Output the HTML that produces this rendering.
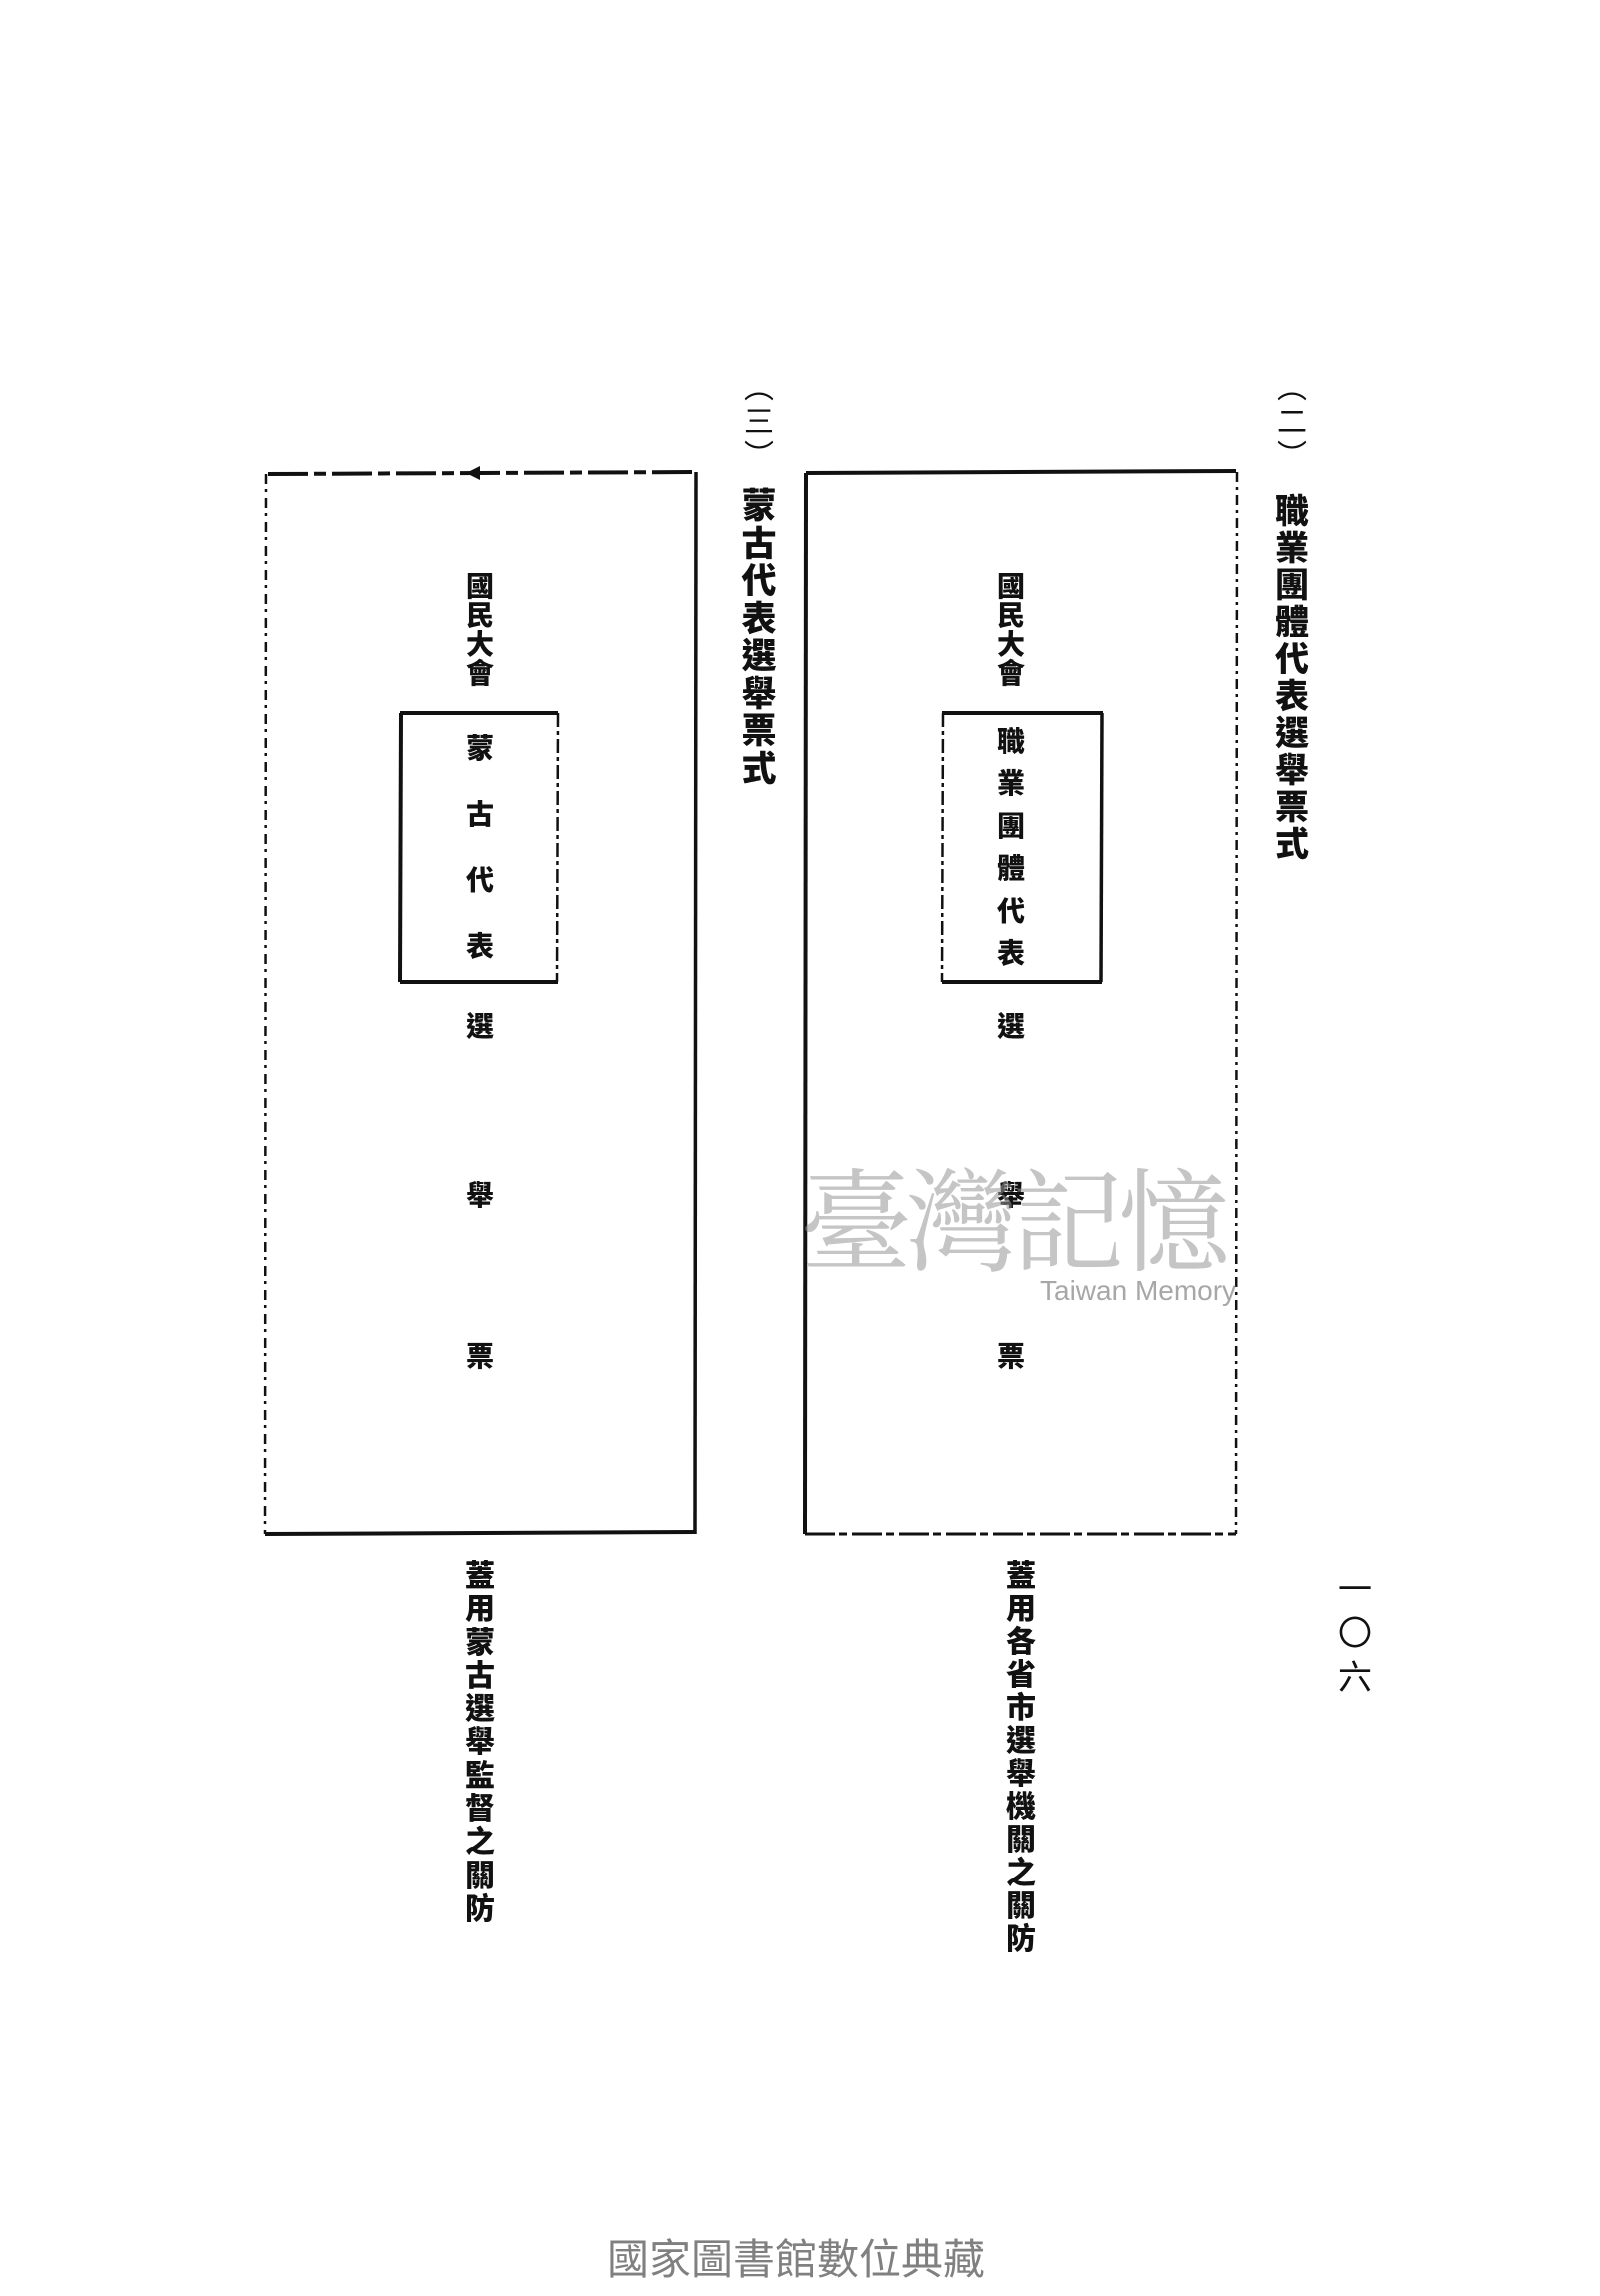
<!DOCTYPE html>
<html><head><meta charset="utf-8"><style>
html,body{margin:0;padding:0;background:#fff;}
body{width:1600px;height:2296px;position:relative;overflow:hidden;font-family:"Liberation Serif","Noto Serif CJK SC","Noto Sans CJK TC",serif;color:#111;}
.col{position:absolute;display:flex;flex-direction:column;align-items:center;font-weight:900;font-family:"Liberation Sans","Noto Sans CJK TC",sans-serif;}
.col span{display:block;text-align:center;}
.c{position:absolute;transform:translate(-50%,-50%);font-weight:900;font-family:"Liberation Sans","Noto Sans CJK TC",sans-serif;}
</style></head><body>
<svg width="1600" height="2296" style="position:absolute;left:0;top:0">
<g stroke="#111" fill="none">
<line x1="806" y1="473" x2="1236" y2="471" stroke-width="4"/>
<line x1="806" y1="473" x2="805" y2="1534" stroke-width="4"/>
<line x1="1237" y1="472" x2="1236" y2="1534" stroke-width="2.5" stroke-dasharray="10 5 3 5"/>
<line x1="805" y1="1534" x2="1236" y2="1534" stroke-width="3" stroke-dasharray="30 4 8 5"/>
<line x1="268" y1="474" x2="697" y2="472" stroke-width="4" stroke-dasharray="40 6 12 6"/>
<line x1="266" y1="474" x2="265" y2="1534" stroke-width="2.5" stroke-dasharray="10 5 3 6"/>
<line x1="696" y1="472" x2="695" y2="1534" stroke-width="3.5"/>
<line x1="265" y1="1534" x2="696" y2="1532" stroke-width="4"/>
<line x1="942" y1="713" x2="1103" y2="713" stroke-width="4"/>
<line x1="943" y1="713" x2="942" y2="982" stroke-width="2.5" stroke-dasharray="14 4 4 4"/>
<line x1="1102" y1="713" x2="1101" y2="982" stroke-width="3.5"/>
<line x1="942" y1="982" x2="1102" y2="982" stroke-width="4"/>
<line x1="400" y1="713" x2="558" y2="713" stroke-width="4"/>
<line x1="401" y1="713" x2="400" y2="982" stroke-width="4"/>
<line x1="558" y1="713" x2="557" y2="982" stroke-width="2.5" stroke-dasharray="14 4 4 4"/>
<line x1="400" y1="982" x2="558" y2="982" stroke-width="4"/>
</g>
<polygon points="466,473 480,466 480,480" fill="#111"/>
</svg>

<div class="col" style="left:1272px;top:372px;width:40px;font-size:30px;line-height:34px;font-weight:400"><span>︵</span><span>二</span><span>︶</span></div>
<div class="col" style="left:1272px;top:494px;width:40px;font-size:34px;line-height:37px"><span>職</span><span>業</span><span>團</span><span>體</span><span>代</span><span>表</span><span>選</span><span>舉</span><span>票</span><span>式</span></div>
<div class="col" style="left:739px;top:372px;width:40px;font-size:30px;line-height:34px;font-weight:400"><span>︵</span><span>三</span><span>︶</span></div>
<div class="col" style="left:739px;top:488px;width:40px;font-size:35px;line-height:37.5px"><span>蒙</span><span>古</span><span>代</span><span>表</span><span>選</span><span>舉</span><span>票</span><span>式</span></div>

<div class="col" style="left:996px;top:572px;width:30px;font-size:28px;line-height:29px"><span>國</span><span>民</span><span>大</span><span>會</span></div>
<div class="c" style="left:1011px;top:740px;font-size:28px">職</div>
<div class="c" style="left:1011px;top:782px;font-size:28px">業</div>
<div class="c" style="left:1011px;top:825px;font-size:28px">團</div>
<div class="c" style="left:1011px;top:867px;font-size:28px">體</div>
<div class="c" style="left:1011px;top:910px;font-size:28px">代</div>
<div class="c" style="left:1011px;top:952px;font-size:28px">表</div>
<div class="c" style="left:1011px;top:1025px;font-size:28px">選</div>
<div class="c" style="left:1011px;top:1194px;font-size:28px">舉</div>
<div class="c" style="left:1011px;top:1355px;font-size:28px">票</div>

<div class="col" style="left:465px;top:572px;width:30px;font-size:28px;line-height:29px"><span>國</span><span>民</span><span>大</span><span>會</span></div>
<div class="c" style="left:480px;top:747px;font-size:28px">蒙</div>
<div class="c" style="left:480px;top:813px;font-size:28px">古</div>
<div class="c" style="left:480px;top:879px;font-size:28px">代</div>
<div class="c" style="left:480px;top:945px;font-size:28px">表</div>
<div class="c" style="left:480px;top:1025px;font-size:28px">選</div>
<div class="c" style="left:480px;top:1194px;font-size:28px">舉</div>
<div class="c" style="left:480px;top:1355px;font-size:28px">票</div>

<div class="col" style="left:1004px;top:1560px;width:34px;font-size:30px;line-height:33px"><span>蓋</span><span>用</span><span>各</span><span>省</span><span>市</span><span>選</span><span>舉</span><span>機</span><span>關</span><span>之</span><span>關</span><span>防</span></div>
<div class="col" style="left:463px;top:1560px;width:34px;font-size:30px;line-height:33.3px"><span>蓋</span><span>用</span><span>蒙</span><span>古</span><span>選</span><span>舉</span><span>監</span><span>督</span><span>之</span><span>關</span><span>防</span></div>
<div class="col" style="left:1335px;top:1568px;width:40px;font-size:34px;line-height:44px;font-weight:400"><span>一</span><span>〇</span><span>六</span></div>

<div style="position:absolute;left:800px;top:1150px;font-size:112px;line-height:130px;color:rgba(150,150,150,0.55);font-family:'Noto Serif CJK SC',serif;letter-spacing:-6px;white-space:nowrap">臺灣記憶</div>
<div style="position:absolute;left:1040px;top:1275px;font-size:28px;color:rgba(130,130,130,0.7);font-family:'Liberation Sans',sans-serif;white-space:nowrap">Taiwan Memory</div>

<div style="position:absolute;left:0;width:1600px;top:2226px;text-align:center;font-size:42px;color:#808080;font-family:'Liberation Sans','Noto Sans CJK TC',sans-serif;"><span style="position:relative;left:-4px">國家圖書館數位典藏</span></div>
</body></html>
